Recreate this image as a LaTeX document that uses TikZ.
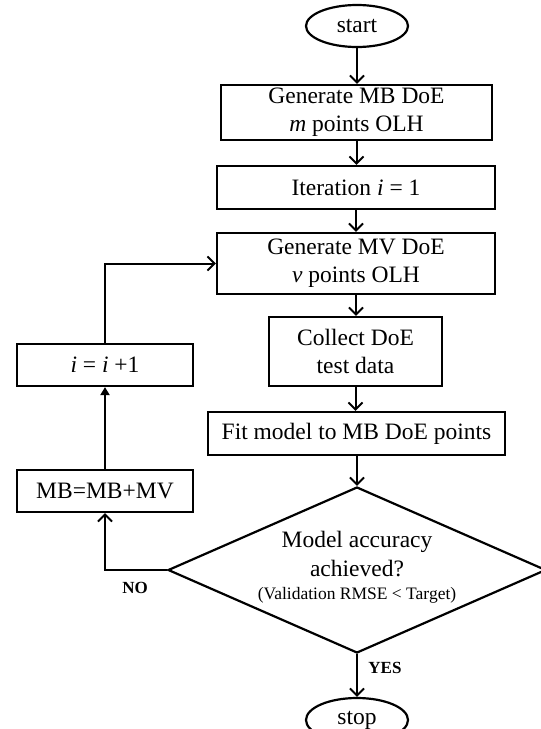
\documentclass[tikz,border=0pt]{standalone}
\usepackage{fontspec}
\setmainfont{Liberation Serif}
\usetikzlibrary{shapes.geometric,arrows.meta}
\begin{document}
\begin{tikzpicture}[x=1pt,y=-1pt,
  box/.style={draw,line width=2.2pt,rectangle,inner sep=0pt,align=center,
    font=\fontsize{23.5}{28}\selectfont},
  oval/.style={draw,line width=2.2pt,ellipse,inner sep=0pt,
    font=\fontsize{23.5}{28}\selectfont},
  conn/.style={line width=2pt,-{Straight Barb[length=7pt,width=14pt,line width=2pt]}},
  fconn/.style={line width=2pt,-{Triangle[length=8pt,width=9pt]}},
  lbl/.style={font=\fontsize{17}{20}\selectfont\bfseries,inner sep=0pt}]
\useasboundingbox (0,0) rectangle (541,729);
\node[oval,minimum width=102,minimum height=42] (start) at (357,26) {start};
\node[box,minimum width=271,minimum height=55] (gen1) at (356.5,112.5) {Generate MB DoE\\\textit{m} points OLH};
\node[box,minimum width=278,minimum height=43] (iter) at (356,187.5) {Iteration \textit{i} = 1};
\node[box,minimum width=278,minimum height=61] (genmv) at (356,263.5) {Generate MV DoE\\\textit{v} points OLH};
\node[box,minimum width=173,minimum height=69] (collect) at (355.5,351.5) {Collect DoE\\test data};
\node[box,minimum width=297,minimum height=43] (fit) at (356.5,433.5) {Fit model to MB DoE points};
\node[draw,line width=2.2pt,diamond,minimum width=378,minimum height=166,inner sep=0pt] (dec) at (357,570) {};
\node[align=center,inner sep=0pt,font=\fontsize{23.5}{29}\selectfont] (dectext) at (357,567)
  {Model accuracy\\achieved?\\[-6pt]{\fontsize{17.5}{20}\selectfont(Validation RMSE < Target)}};
\node[oval,minimum width=102,minimum height=44] (stop) at (357,720) {stop};
\node[box,minimum width=176,minimum height=42] (iinc) at (105,365) {\textit{i} = \textit{i} +1};
\node[box,minimum width=176,minimum height=42] (mbmv) at (105,491) {MB=MB+MV};
\coordinate (cno) at (105,570);
\coordinate (cloop) at (105,263.5);
\draw[conn] (start) -- (start |- gen1.north);
\draw[conn] (gen1) -- (gen1 |- iter.north);
\draw[conn] (iter) -- (iter |- genmv.north);
\draw[conn] (genmv) -- (genmv |- collect.north);
\draw[conn] (collect) -- (collect |- fit.north);
\draw[conn] (fit.south -| dec.north) -- (dec.north);
\draw[conn] (dec.south) -- (stop.north);
\draw[conn] (dec.west) -- (cno) -- (mbmv.south);
\draw[fconn] (mbmv.north) -- (iinc.south);
\draw[conn] (iinc.north) -- (cloop) -- (genmv.west);
\node[lbl] (no) at (135,588) {NO};
\node[lbl] (yes) at (385,668) {YES};
\end{tikzpicture}
\end{document}
